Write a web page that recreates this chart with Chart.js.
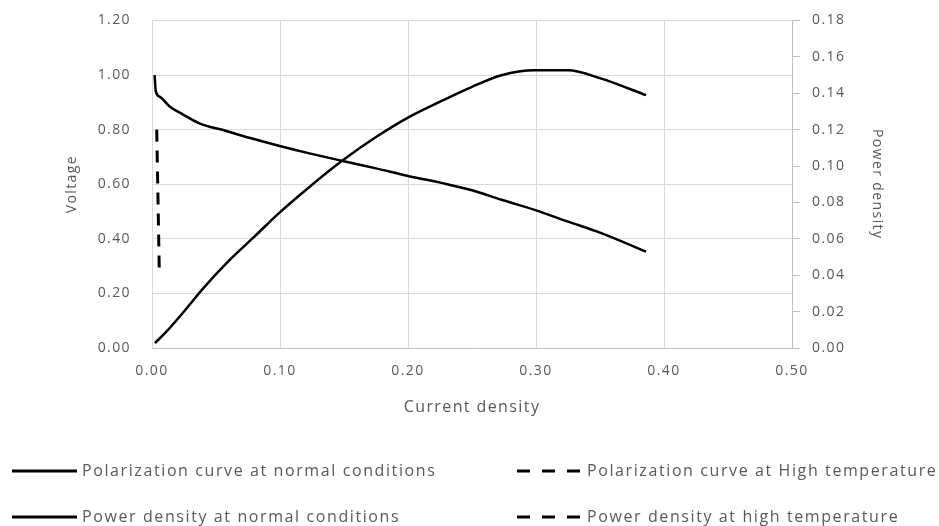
<!DOCTYPE html>
<html>
<head>
<meta charset="utf-8">
<script src="https://cdn.jsdelivr.net/npm/chart.js@4"></script>
<style>
  body { margin: 0; background: #fff; }
  #wrap { width: 939px; height: 526px; }
</style>
</head>
<body>
<div id="wrap"><canvas id="fuel-cell-chart" width="939" height="526"></canvas></div>
<script>
// Polarization curve, normal conditions (current density vs voltage)
const normalCurrent = [0.002, 0.003, 0.0062, 0.014, 0.024, 0.037, 0.058, 0.076, 0.099, 0.123,
  0.149, 0.175, 0.200, 0.227, 0.250, 0.273, 0.299, 0.325, 0.351, 0.386];
const normalVoltage = [1.00, 0.94, 0.92, 0.884, 0.856, 0.823, 0.795, 0.770, 0.741, 0.713,
  0.685, 0.658, 0.630, 0.604, 0.578, 0.543, 0.506, 0.463, 0.421, 0.353];

// Power density, normal conditions
const powerCurrent = [0.0023, 0.0114, 0.0243, 0.040, 0.0607, 0.080, 0.099, 0.123, 0.149, 0.175,
  0.200, 0.227, 0.250, 0.273, 0.299, 0.325, 0.351, 0.386];
const normalPower = [0.0027, 0.0091, 0.0195, 0.0328, 0.0484, 0.0612, 0.074, 0.0885, 0.1031, 0.1159,
  0.1266, 0.136, 0.1435, 0.1499, 0.1526, 0.1526, 0.148, 0.1389];

// High temperature runs (only the polarization curve shows up in the plot)
const highCurrent = [0.0037, 0.0057];
const highVoltage = [0.80, 0.28];
const highPowerCurrent = [];
const highPower = [];

// Axis ticks: min, max, step
const xTicks = [0, 0.5, 0.1];
const voltageTicks = [0, 1.2, 0.2];
const powerTicks = [0, 0.18, 0.02];

const labels = [
  "Polarization curve at normal conditions",
  "Polarization curve at High temperature",
  "Power density at normal conditions",
  "Power density at high temperature",
];

function toPoints(xs, ys) {
  return xs.map((x, i) => ({ x: x, y: ys[i] }));
}

const textColor = "#595959";
const fontFamily = '"Open Sans", "Liberation Sans", sans-serif';

// legend drawn under the plot, two rows by two columns
const bottomLegend = {
  id: "bottomLegend",
  beforeDraw(chart) {
    chart.ctx.letterSpacing = "1.4px";
  },
  afterDraw(chart) {
    const ctx = chart.ctx;
    const cols = [12, 517];
    const rows = [471, 517];
    chart.data.datasets.forEach((ds, i) => {
      const x = cols[i % 2];
      const y = rows[Math.floor(i / 2)];
      ctx.save();
      ctx.strokeStyle = ds.borderColor;
      ctx.lineWidth = 3;
      ctx.setLineDash(ds.borderDash ? [13, 12] : []);
      ctx.beginPath();
      ctx.moveTo(x, y);
      ctx.lineTo(x + 65, y);
      ctx.stroke();
      ctx.setLineDash([]);
      ctx.fillStyle = textColor;
      ctx.font = "16px " + fontFamily;
      ctx.letterSpacing = "1.6px";
      ctx.textBaseline = "middle";
      ctx.fillText(ds.label, x + 70, y);
      ctx.restore();
    });
  },
};

const lineStyle = {
  borderColor: "#000000",
  borderWidth: 2.5,
  pointRadius: 0,
  fill: false,
  cubicInterpolationMode: "monotone",
};

const ctx = document.getElementById("fuel-cell-chart");

new Chart(ctx, {
  type: "line",
  data: {
    datasets: [
      { ...lineStyle, label: labels[0], data: toPoints(normalCurrent, normalVoltage), yAxisID: "y" },
      { ...lineStyle, label: labels[1], data: toPoints(highCurrent, highVoltage), yAxisID: "y", borderDash: [12, 9], borderWidth: 3 },
      { ...lineStyle, label: labels[2], data: toPoints(powerCurrent, normalPower), yAxisID: "y1" },
      { ...lineStyle, label: labels[3], data: toPoints(highPowerCurrent, highPower), yAxisID: "y1", borderDash: [12, 9], borderWidth: 3 },
    ],
  },
  options: {
    responsive: false,
    animation: false,
    layout: { padding: { top: 20, bottom: 108, left: 0, right: 0 } },
    plugins: {
      legend: { display: false },
      tooltip: { enabled: false },
    },
    scales: {
      x: {
        type: "linear",
        min: xTicks[0],
        max: xTicks[1],
        afterFit: (scale) => { scale.height = 70; },
        ticks: {
          stepSize: xTicks[2],
          color: textColor,
          font: { family: fontFamily, size: 14 },
          padding: 15,
          maxRotation: 0,
          callback: (v) => v.toFixed(2),
        },
        grid: { color: "#d9d9d9", drawTicks: false },
        border: { color: "#bfbfbf" },
        title: {
          display: true,
          text: "Current density",
          color: textColor,
          font: { family: fontFamily, size: 16 },
          padding: { top: 0, bottom: 1 },
        },
      },
      y: {
        position: "left",
        min: voltageTicks[0],
        max: voltageTicks[1],
        afterFit: (scale) => { scale.width = 152; },
        ticks: {
          stepSize: voltageTicks[2],
          color: textColor,
          font: { family: fontFamily, size: 14 },
          padding: 2,
          callback: (v) => v.toFixed(2),
        },
        // invisible tick marks keep the labels away from the axis
        grid: { color: "#d9d9d9", drawTicks: true, tickLength: 19, tickColor: "rgba(0,0,0,0)" },
        border: { color: "#d9d9d9" },
        title: {
          display: true,
          text: "Voltage",
          color: textColor,
          font: { family: fontFamily, size: 14 },
          padding: { top: 64, bottom: 0 },
        },
      },
      y1: {
        position: "right",
        min: powerTicks[0],
        max: powerTicks[1],
        afterFit: (scale) => { scale.width = 147; },
        ticks: {
          stepSize: powerTicks[2],
          color: textColor,
          font: { family: fontFamily, size: 14 },
          padding: 12,
          callback: (v) => v.toFixed(2),
        },
        grid: { drawOnChartArea: false, drawTicks: true, tickLength: 8, color: "#bfbfbf" },
        border: { color: "#bfbfbf" },
        title: {
          display: true,
          text: "Power density",
          color: textColor,
          font: { family: fontFamily, size: 14 },
          padding: { top: 54, bottom: 0 },
        },
      },
    },
  },
  plugins: [bottomLegend],
});
</script>
</body>
</html>
